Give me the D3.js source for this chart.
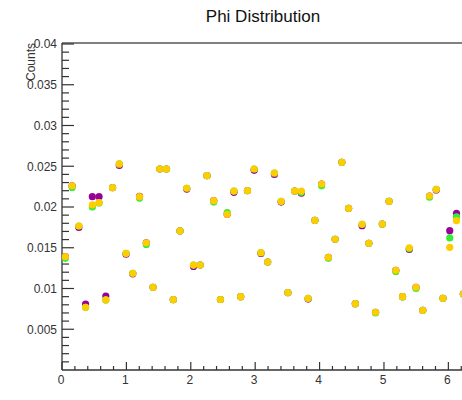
<!DOCTYPE html>
<html>
<head>
<meta charset="utf-8">
<script src="https://cdn.jsdelivr.net/npm/d3@7"></script>
<style>
  html, body { margin: 0; padding: 0; background: #fff; }
  svg { display: block; }
  text { font-family: "Liberation Sans", Arial, Helvetica, sans-serif; }
</style>
</head>
<body>
<div id="chart"></div>
<script>
// ---- data ----
const title = "Phi Distribution";
const yTitle = "Counts";
const xTicks = [0, 1, 2, 3, 4, 5, 6];
const yTicks = [0.005, 0.01, 0.015, 0.02, 0.025, 0.03, 0.035, 0.04];
const nBins = 60;
const xMax = 2 * Math.PI;

// three overlapping series (drawn purple, then green, then gold on top)
const purple = [0.0139, 0.0226, 0.0175, 0.0081, 0.02127, 0.02127, 0.00908, 0.02237, 0.0251, 0.0142,
  0.0118, 0.0213, 0.0156, 0.01014, 0.02466, 0.02466, 0.00863, 0.01706, 0.0222, 0.0127,
  0.01288, 0.02384, 0.02077, 0.00865, 0.0191, 0.0218, 0.0090, 0.0220, 0.0245, 0.0143,
  0.01325, 0.0240, 0.0206, 0.00949, 0.02196, 0.0217, 0.0087, 0.01837, 0.02282, 0.01383,
  0.01604, 0.02548, 0.01984, 0.00814, 0.0177, 0.01554, 0.00708, 0.01791, 0.0207, 0.01223,
  0.0090, 0.0148, 0.01015, 0.00732, 0.02135, 0.0221, 0.0088, 0.01709, 0.01922, 0.00933];
const green = [0.0137, 0.0224, 0.01767, 0.0077, 0.0200, 0.0205, 0.0086, 0.02237, 0.02528, 0.01432,
  0.01186, 0.0211, 0.0154, 0.01014, 0.02466, 0.02466, 0.00863, 0.01706, 0.0223, 0.01288,
  0.01288, 0.02384, 0.0206, 0.00865, 0.0193, 0.02196, 0.0090, 0.0220, 0.02466, 0.0144,
  0.01325, 0.02417, 0.0207, 0.00949, 0.02196, 0.0218, 0.0088, 0.01837, 0.0226, 0.0137,
  0.01604, 0.02548, 0.01984, 0.00814, 0.01788, 0.01554, 0.0070, 0.01791, 0.0207, 0.0121,
  0.0090, 0.0149, 0.0100, 0.00732, 0.0212, 0.02217, 0.0088, 0.0162, 0.0188, 0.00933];
const gold = [0.0139, 0.0226, 0.01767, 0.0077, 0.02025, 0.02053, 0.0086, 0.02237, 0.02528, 0.01432,
  0.01186, 0.02127, 0.0156, 0.01014, 0.02466, 0.02466, 0.00863, 0.01706, 0.0223, 0.01288,
  0.01288, 0.02384, 0.02077, 0.00865, 0.0191, 0.02196, 0.0090, 0.0220, 0.02466, 0.0144,
  0.01325, 0.02417, 0.0207, 0.00949, 0.02196, 0.02196, 0.0088, 0.01837, 0.02282, 0.01383,
  0.01604, 0.02548, 0.01984, 0.00814, 0.01788, 0.01554, 0.00708, 0.01791, 0.0207, 0.01223,
  0.0090, 0.0150, 0.01015, 0.00732, 0.02135, 0.02217, 0.0088, 0.01505, 0.01832, 0.00933];

const seriesList = [
  { name: "purple", values: purple, color: "#990099" },
  { name: "green", values: green, color: "#33ee33" },
  { name: "gold", values: gold, color: "#ffcc00" }
];

// ---- layout ----
const W = 462, H = 400;
const mLeft = 62, mRight = 466.6, mTop = 43, mBottom = 370;

const svg = d3.select("#chart").append("svg")
  .attr("width", W).attr("height", H);

const x = d3.scaleLinear().domain([0, xMax]).range([mLeft, mRight]);
const y = d3.scaleLinear().domain([0, 0.04]).range([mBottom, mTop + 1]);

// frame top line
svg.append("line")
  .attr("x1", mLeft).attr("x2", mRight + 10)
  .attr("y1", mTop).attr("y2", mTop)
  .attr("stroke", "#808080").attr("stroke-width", 2);

// X axis
const xMinor = d3.range(0, 6.3, 0.2).filter(v => Math.abs(v - Math.round(v)) > 1e-6);
const gx = svg.append("g").attr("transform", `translate(0,${mBottom})`);
gx.append("line").attr("x1", mLeft).attr("x2", mRight + 10).attr("y1", 0).attr("y2", 0)
  .attr("stroke", "#333").attr("stroke-width", 1.3);
gx.selectAll("line.minor").data(xMinor).join("line").attr("class", "minor")
  .attr("x1", d => x(d)).attr("x2", d => x(d)).attr("y1", 0).attr("y2", -4)
  .attr("stroke", "#333").attr("stroke-width", 1.2);
gx.selectAll("line.major").data(xTicks).join("line").attr("class", "major")
  .attr("x1", d => x(d)).attr("x2", d => x(d)).attr("y1", 0).attr("y2", -8)
  .attr("stroke", "#333").attr("stroke-width", 1.2);
gx.selectAll("text").data(xTicks).join("text")
  .attr("x", d => x(d) - 1).attr("y", 13.5)
  .attr("text-anchor", "middle")
  .attr("font-size", 12).attr("fill", "#333")
  .text(d => d);

// Y axis
const yMinor = d3.range(0.001, 0.0401, 0.001).filter(v => Math.abs(v / 0.005 - Math.round(v / 0.005)) > 1e-6);
const gy = svg.append("g");
gy.append("line").attr("x1", mLeft).attr("x2", mLeft).attr("y1", mTop).attr("y2", mBottom)
  .attr("stroke", "#333").attr("stroke-width", 1.3);
gy.selectAll("line.minor").data(yMinor).join("line").attr("class", "minor")
  .attr("x1", mLeft).attr("x2", mLeft + 7).attr("y1", d => y(d)).attr("y2", d => y(d))
  .attr("stroke", "#333").attr("stroke-width", 1.2);
gy.selectAll("line.major").data(yTicks).join("line").attr("class", "major")
  .attr("x1", mLeft).attr("x2", mLeft + 12).attr("y1", d => y(d)).attr("y2", d => y(d))
  .attr("stroke", "#333").attr("stroke-width", 1.2);
gy.selectAll("text").data(yTicks).join("text")
  .attr("x", mLeft - 5).attr("y", d => y(d) + 4.3)
  .attr("text-anchor", "end")
  .attr("font-size", 12).attr("fill", "#333")
  .text(d => String(+d.toFixed(3)));

// Y title
svg.append("text")
  .attr("transform", `translate(35,${mTop}) rotate(-90)`)
  .attr("text-anchor", "end")
  .attr("font-size", 12).attr("fill", "#333")
  .text(yTitle);

// Title
svg.append("text")
  .attr("x", 263).attr("y", 22)
  .attr("text-anchor", "middle")
  .attr("font-size", 17).attr("fill", "#111")
  .text(title);

// points
const binW = xMax / nBins;
seriesList.forEach(s => {
  svg.append("g").selectAll("circle").data(s.values).join("circle")
    .attr("cx", (d, i) => x((i + 0.5) * binW))
    .attr("cy", d => y(d))
    .attr("r", 3.6)
    .attr("fill", s.color);
});
</script>
</body>
</html>
